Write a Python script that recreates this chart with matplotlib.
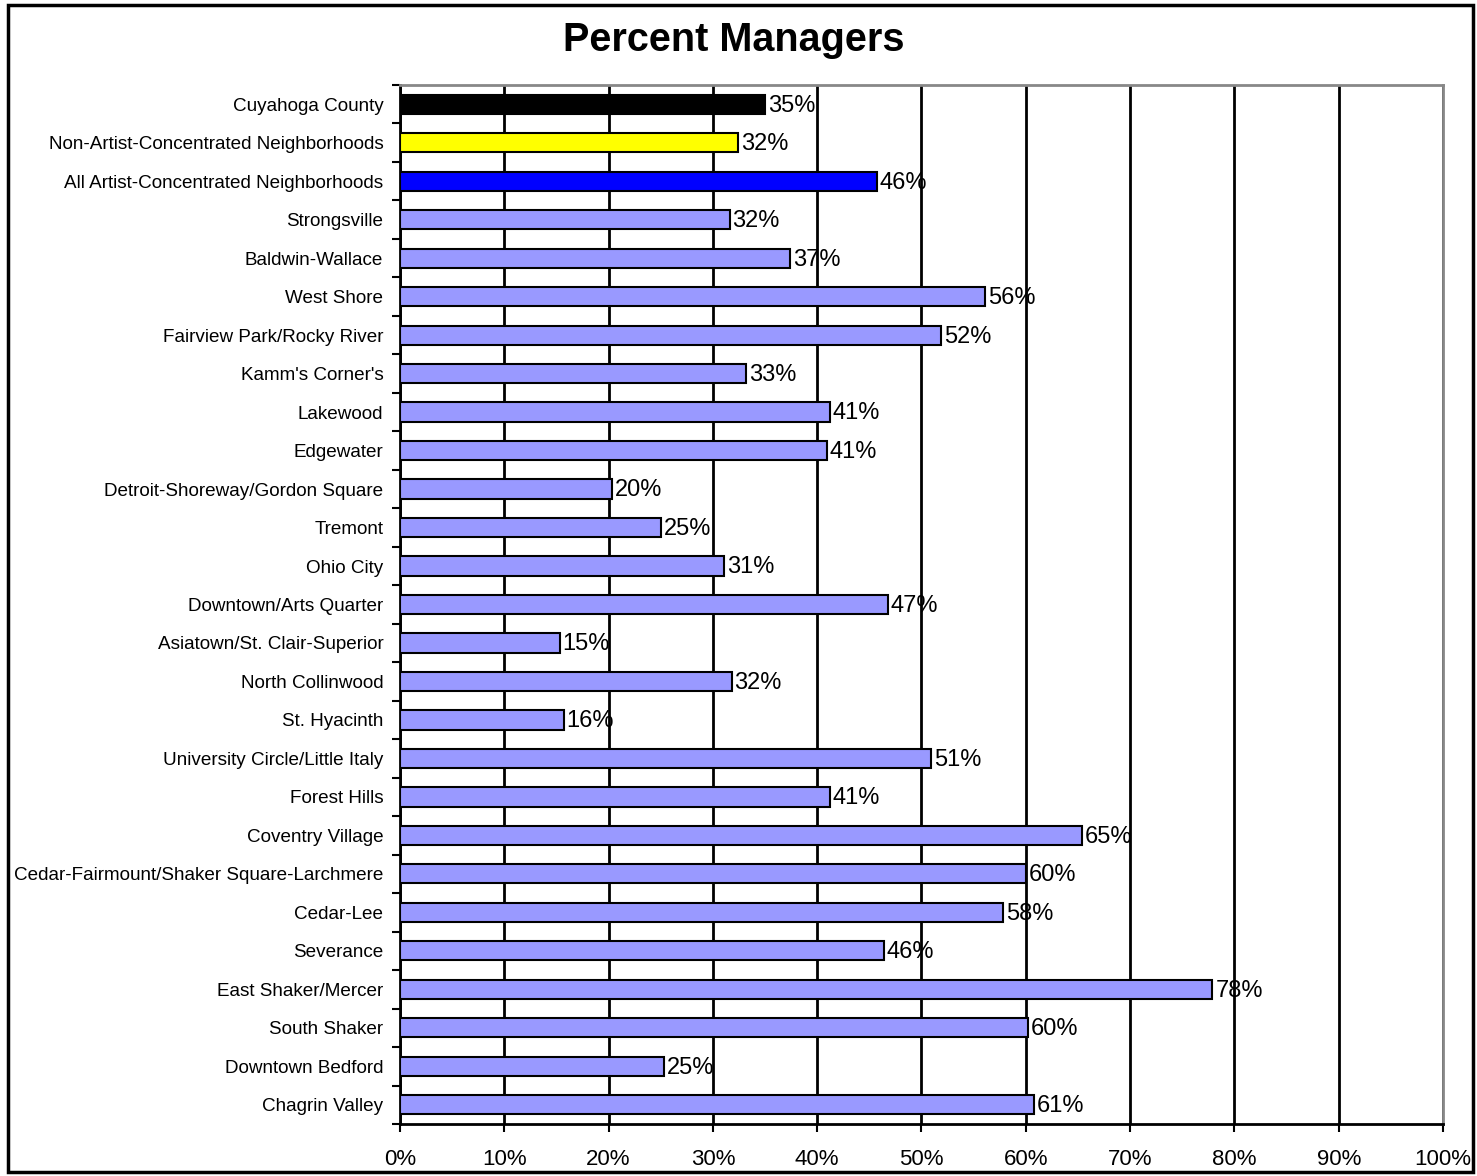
import matplotlib.pyplot as plt
from matplotlib.patches import Rectangle
import numpy as np

plt.rcParams['font.family'] = ['Liberation Sans', 'DejaVu Sans']

categories = ["Cuyahoga County", "Non-Artist-Concentrated Neighborhoods",
              "All Artist-Concentrated Neighborhoods", "Strongsville",
              "Baldwin-Wallace", "West Shore", "Fairview Park/Rocky River",
              "Kamm's Corner's", "Lakewood", "Edgewater",
              "Detroit-Shoreway/Gordon Square", "Tremont", "Ohio City",
              "Downtown/Arts Quarter", "Asiatown/St. Clair-Superior",
              "North Collinwood", "St. Hyacinth", "University Circle/Little Italy",
              "Forest Hills", "Coventry Village",
              "Cedar-Fairmount/Shaker Square-Larchmere", "Cedar-Lee",
              "Severance", "East Shaker/Mercer", "South Shaker",
              "Downtown Bedford", "Chagrin Valley"]
values = [35.0, 32.4, 45.7, 31.6, 37.4, 56.1, 51.9, 33.2, 41.2, 40.9,
          20.3, 25.0, 31.1, 46.8, 15.3, 31.8, 15.7, 50.9, 41.2, 65.4,
          60.0, 57.8, 46.4, 77.9, 60.2, 25.3, 60.8]
colors = ['#000000', '#FFFF00', '#0000FF'] + ['#9999FF'] * 24

fig = plt.figure(figsize=(14.77, 11.76), dpi=100)
ax = fig.add_axes([400 / 1477, 1 - 1124 / 1176, 1043 / 1477, 1039 / 1176])

y = np.arange(len(categories))
ax.set_axisbelow(True)
bars = ax.barh(y, values, height=0.5, color=colors, edgecolor='black', linewidth=1.5, zorder=3)
for yi, v in zip(y, values):
    ax.annotate(f"{v:.0f}%", (v, yi), xytext=(2, -1), textcoords='offset points',
                va='center', ha='left', fontsize=17, zorder=4)

ax.set_xlim(0, 100)
ax.set_ylim(len(categories) - 0.5, -0.5)
ax.set_xticks(np.arange(0, 101, 10))
ax.set_xticklabels([f"{t}%" for t in range(0, 101, 10)], fontsize=16)
ax.set_yticks(y)
ax.set_yticklabels(categories, fontsize=13.6)
ax.set_yticks(np.arange(-0.5, len(categories)), minor=True)
ax.tick_params(axis='y', which='major', length=0, pad=12)
ax.tick_params(axis='y', which='minor', length=6, width=1.5, direction='out')
ax.tick_params(axis='x', length=6, width=1.5, direction='out', pad=12)
ax.xaxis.grid(True, color='black', linewidth=2)

ax.spines['left'].set_linewidth(2)
ax.spines['bottom'].set_linewidth(2)
ax.spines['top'].set_color('#888888')
ax.spines['right'].set_color('#888888')
ax.spines['top'].set_linewidth(2)
ax.spines['right'].set_linewidth(2)

fig.text(734 / 1477, 1 - 40 / 1176, "Percent Managers", ha='center', va='center',
         fontsize=28.5, fontweight='bold')

fig.patches.append(Rectangle((8 / 1477, 4 / 1176), 1465 / 1477, 1167 / 1176,
                             transform=fig.transFigure, fill=False,
                             edgecolor='black', linewidth=2.5))

fig.savefig("out.png", dpi=100)
